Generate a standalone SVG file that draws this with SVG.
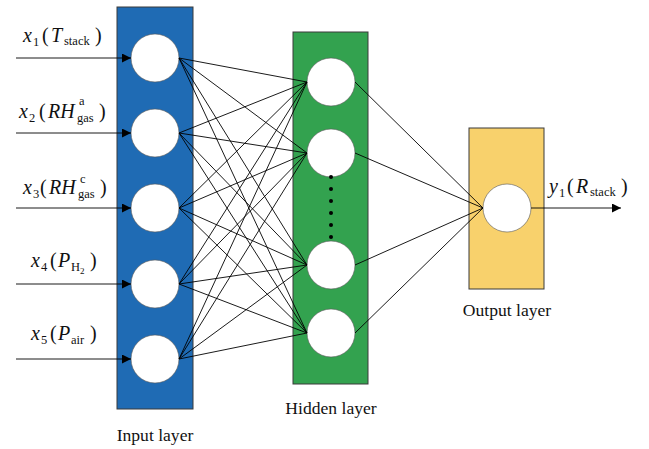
<svg xmlns="http://www.w3.org/2000/svg" width="649" height="449" viewBox="0 0 649 449">
<defs>
<style>
.layer{stroke:#3a3a3a;stroke-width:1}
.node{fill:#ffffff;stroke:#555;stroke-width:0.6}
.conn line{stroke:#000;stroke-width:0.9}
.arr{stroke:#000;stroke-width:1.1;fill:none}
text{font-family:"Liberation Serif","Times New Roman",serif;fill:#111}
.lbl{font-size:20px}
.it{font-style:italic}
.sub{font-size:12.5px}
.cap{font-size:17.6px}
</style>
<marker id="ah" viewBox="0 0 10 10" refX="10" refY="5" markerWidth="9" markerHeight="9" markerUnits="userSpaceOnUse" orient="auto">
<path d="M0,0 L10,5 L0,10 Z" fill="#000"/>
</marker>
</defs>
<rect width="649" height="449" fill="#ffffff"/>

<g id="input-layer">
<rect class="layer" x="117" y="7" width="76" height="402" fill="#1f6bb4"/>
<circle class="node" cx="155" cy="58" r="24"/>
<circle class="node" cx="155" cy="133" r="24"/>
<circle class="node" cx="155" cy="208" r="24"/>
<circle class="node" cx="155" cy="284" r="24"/>
<circle class="node" cx="155" cy="359" r="24"/>
<text class="cap" x="155" y="441" text-anchor="middle">Input layer</text>
</g>

<g id="hidden-layer">
<rect class="layer" x="293" y="32" width="75" height="352" fill="#33a24f"/>
<circle class="node" cx="331" cy="82" r="24"/>
<circle class="node" cx="331" cy="153" r="24"/>
<circle class="node" cx="331" cy="265" r="24"/>
<circle class="node" cx="331" cy="333" r="24"/>
<g fill="#000">
<circle cx="331" cy="177" r="2"/>
<circle cx="331" cy="189" r="2"/>
<circle cx="331" cy="201" r="2"/>
<circle cx="331" cy="213" r="2"/>
<circle cx="331" cy="225" r="2"/>
<circle cx="331" cy="237" r="2"/>
</g>
<text class="cap" x="331" y="414" text-anchor="middle">Hidden layer</text>
</g>

<g id="output-layer">
<rect class="layer" x="469" y="128" width="75" height="161" fill="#f8d16c"/>
<circle class="node" cx="507" cy="208" r="24"/>
<text class="cap" x="507" y="316" text-anchor="middle">Output layer</text>
</g>

<g id="connectors" class="conn">
<line x1="179" y1="58" x2="307" y2="82"/>
<line x1="179" y1="58" x2="307" y2="153"/>
<line x1="179" y1="58" x2="307" y2="265"/>
<line x1="179" y1="58" x2="307" y2="333"/>
<line x1="179" y1="133" x2="307" y2="82"/>
<line x1="179" y1="133" x2="307" y2="153"/>
<line x1="179" y1="133" x2="307" y2="265"/>
<line x1="179" y1="133" x2="307" y2="333"/>
<line x1="179" y1="208" x2="307" y2="82"/>
<line x1="179" y1="208" x2="307" y2="153"/>
<line x1="179" y1="208" x2="307" y2="265"/>
<line x1="179" y1="208" x2="307" y2="333"/>
<line x1="179" y1="284" x2="307" y2="82"/>
<line x1="179" y1="284" x2="307" y2="153"/>
<line x1="179" y1="284" x2="307" y2="265"/>
<line x1="179" y1="284" x2="307" y2="333"/>
<line x1="179" y1="359" x2="307" y2="82"/>
<line x1="179" y1="359" x2="307" y2="153"/>
<line x1="179" y1="359" x2="307" y2="265"/>
<line x1="179" y1="359" x2="307" y2="333"/>
<line x1="355" y1="82" x2="483" y2="208"/>
<line x1="355" y1="153" x2="483" y2="208"/>
<line x1="355" y1="265" x2="483" y2="208"/>
<line x1="355" y1="333" x2="483" y2="208"/>
<line class="arr" x1="16" y1="58" x2="131" y2="58" marker-end="url(#ah)"/>
<line class="arr" x1="16" y1="133" x2="131" y2="133" marker-end="url(#ah)"/>
<line class="arr" x1="16" y1="208" x2="131" y2="208" marker-end="url(#ah)"/>
<line class="arr" x1="16" y1="284" x2="131" y2="284" marker-end="url(#ah)"/>
<line class="arr" x1="16" y1="359" x2="131" y2="359" marker-end="url(#ah)"/>
<line class="arr" x1="531" y1="208" x2="621" y2="208" marker-end="url(#ah)"/>
</g>

<g id="input-labels">
<text class="lbl"><tspan class="it" x="23" y="42">x</tspan><tspan class="sub" x="33" y="46">1</tspan><tspan x="42" y="42">(</tspan><tspan class="it" x="51" y="42">T</tspan><tspan class="sub" x="64" y="45">stack</tspan><tspan x="95" y="42">)</tspan></text>
<text class="lbl"><tspan class="it" x="19" y="118">x</tspan><tspan class="sub" x="29" y="122">2</tspan><tspan x="39" y="118">(</tspan><tspan class="it" x="48" y="118">RH</tspan><tspan class="sub" x="79" y="105">a</tspan><tspan class="sub" x="77" y="122">gas</tspan><tspan x="99" y="118">)</tspan></text>
<text class="lbl"><tspan class="it" x="23" y="194">x</tspan><tspan class="sub" x="33" y="198">3</tspan><tspan x="40" y="194">(</tspan><tspan class="it" x="49" y="194">RH</tspan><tspan class="sub" x="80" y="183">c</tspan><tspan class="sub" x="78" y="198">gas</tspan><tspan x="100" y="194">)</tspan></text>
<text class="lbl"><tspan class="it" x="31" y="267">x</tspan><tspan class="sub" x="41" y="271">4</tspan><tspan x="50" y="267">(</tspan><tspan class="it" x="58" y="267">P</tspan><tspan class="sub" x="71" y="271">H</tspan><tspan style="font-size:9px" x="80" y="274">2</tspan><tspan x="90" y="267">)</tspan></text>
<text class="lbl"><tspan class="it" x="31" y="340">x</tspan><tspan class="sub" x="41" y="344">5</tspan><tspan x="50" y="340">(</tspan><tspan class="it" x="58" y="340">P</tspan><tspan class="sub" x="71" y="344">air</tspan><tspan x="90" y="340">)</tspan></text>
</g>

<g id="output-label">
<text class="lbl"><tspan class="it" x="549" y="193">y</tspan><tspan class="sub" x="559" y="197">1</tspan><tspan x="567" y="193">(</tspan><tspan class="it" x="576" y="193">R</tspan><tspan class="sub" x="590" y="196">stack</tspan><tspan x="621" y="193">)</tspan></text>
</g>
</svg>
